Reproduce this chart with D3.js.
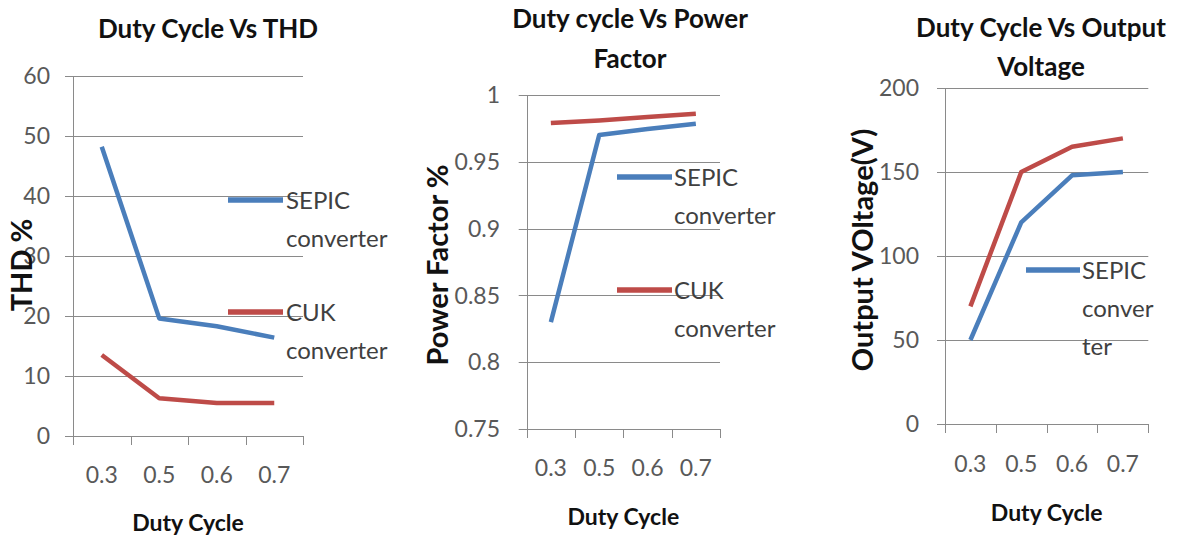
<!DOCTYPE html>
<html>
<head>
<meta charset="utf-8">
<script src="https://cdn.jsdelivr.net/npm/d3@7"></script>
<style>
  html, body { margin: 0; padding: 0; background: #ffffff; }
  svg { display: block; }
  text { font-family: Lato, "Open Sans", sans-serif; }
</style>
</head>
<body>
<svg id="chart" width="1177" height="540"></svg>
<script>
// ---- data ----
const categories = ["0.3", "0.5", "0.6", "0.7"];
const seriesNames = ["SEPIC converter", "CUK converter"];

const thdSepic = [48.2, 19.6, 18.3, 16.4];
const thdCuk = [13.5, 6.3, 5.5, 5.5];
const thdTicks = [0, 10, 20, 30, 40, 50, 60];

const pfSepic = [0.83, 0.97, 0.9745, 0.9785];
const pfCuk = [0.979, 0.981, 0.9835, 0.986];
const pfTicks = [0.75, 0.8, 0.85, 0.9, 0.95, 1];

const vSepic = [50, 120, 148, 150];
const vCuk = [70, 150, 165, 170];
const vTicks = [0, 50, 100, 150, 200];

const titles = [["Duty Cycle Vs THD"], ["Duty cycle Vs Power", "Factor"], ["Duty Cycle Vs Output", "Voltage"]];
const yTitles = ["THD %", "Power Factor %", "Output VOltage(V)"];
const xTitle = "Duty Cycle";

// ---- styles ----
const BLUE = "#4A7EBB";
const RED = "#BE4B48";
const GRID = "#8a8a8a";
const TICKTXT = "#595959";
const LEGTXT = "#404040";

const svg = d3.select("#chart");

const panels = [
  {
    x0: 73, x1: 303, yTop: 76, yBot: 436, domain: [0, 60], ticks: thdTicks,
    fmt: d3.format("d"), series: [thdSepic, thdCuk],
    title: titles[0], titleX: 208, titleY: [38],
    yTitle: yTitles[0], yTitleX: 22, yTitleY: 265,
    tickLabelX: 50, xLabY: 483, xTitleY: 531,
    legend: [
      { color: BLUE, lx0: 228, lx1: 283, ly: 200, tx: 286, lines: ["SEPIC", "converter"] },
      { color: RED, lx0: 228, lx1: 283, ly: 312, tx: 286, lines: ["CUK", "converter"] }
    ]
  },
  {
    x0: 526.7, x1: 720, yTop: 95, yBot: 429, domain: [0.75, 1], ticks: pfTicks,
    fmt: d => d3.format("")(+d.toFixed(2)), series: [pfSepic, pfCuk],
    title: titles[1], titleX: 630, titleY: [28, 68],
    yTitle: yTitles[1], yTitleX: 438, yTitleY: 265,
    tickLabelX: 500, xLabY: 476, xTitleY: 525,
    legend: [
      { color: BLUE, lx0: 617, lx1: 672, ly: 177, tx: 674, lines: ["SEPIC", "converter"] },
      { color: RED, lx0: 617, lx1: 672, ly: 290, tx: 674, lines: ["CUK", "converter"] }
    ]
  },
  {
    x0: 945, x1: 1148.3, yTop: 88, yBot: 424, domain: [0, 200], ticks: vTicks,
    fmt: d3.format("d"), series: [vSepic, vCuk],
    title: titles[2], titleX: 1041, titleY: [37, 76],
    yTitle: yTitles[2], yTitleX: 863, yTitleY: 250,
    tickLabelX: 919, xLabY: 472, xTitleY: 521,
    legend: [
      { color: BLUE, lx0: 1026, lx1: 1080, ly: 270, tx: 1082, lines: ["SEPIC", "conver", "ter"] }
    ]
  }
];

panels.forEach(p => {
  const g = svg.append("g");
  const x = d3.scaleBand().domain(categories).range([p.x0, p.x1]).padding(0);
  const y = d3.scaleLinear().domain(p.domain).range([p.yBot, p.yTop]);

  // gridlines (extend 8px left of the axis as tick marks)
  g.selectAll(".grid").data(p.ticks).join("line")
    .attr("x1", p.x0 - 8).attr("x2", p.x1)
    .attr("y1", d => Math.round(y(d)) + 0.5).attr("y2", d => Math.round(y(d)) + 0.5)
    .attr("stroke", GRID).attr("stroke-width", 1);

  // y axis line
  g.append("line")
    .attr("x1", Math.round(p.x0) + 0.5).attr("x2", Math.round(p.x0) + 0.5)
    .attr("y1", y(p.domain[1])).attr("y2", y(p.domain[0]))
    .attr("stroke", GRID).attr("stroke-width", 1);

  // x tick marks at category boundaries
  const bounds = categories.map(c => x(c)).concat([x(categories[categories.length - 1]) + x.bandwidth()]);
  g.selectAll(".xt").data(bounds).join("line")
    .attr("x1", d => Math.round(d) + 0.5).attr("x2", d => Math.round(d) + 0.5)
    .attr("y1", y(p.domain[0])).attr("y2", y(p.domain[0]) + 9)
    .attr("stroke", GRID).attr("stroke-width", 1);

  // y tick labels
  g.selectAll(".yl").data(p.ticks).join("text")
    .attr("x", p.tickLabelX).attr("y", d => y(d))
    .attr("dy", "0.36em").attr("text-anchor", "end")
    .attr("font-size", 23).attr("fill", TICKTXT)
    .text(d => p.fmt(d));

  // x tick labels
  g.selectAll(".xl").data(categories).join("text")
    .attr("x", d => x(d) + x.bandwidth() / 2).attr("y", p.xLabY)
    .attr("text-anchor", "middle").attr("font-size", 23).attr("fill", TICKTXT)
    .text(d => d);

  // series lines
  const colors = [BLUE, RED];
  p.series.forEach((vals, i) => {
    const line = d3.line()
      .x((d, j) => x(categories[j]) + x.bandwidth() / 2)
      .y(d => y(d));
    g.append("path").datum(vals)
      .attr("d", line).attr("fill", "none")
      .attr("stroke", colors[i]).attr("stroke-width", 4.5)
      .attr("stroke-linejoin", "round");
  });

  // legend
  p.legend.forEach(l => {
    g.append("line").attr("x1", l.lx0).attr("x2", l.lx1)
      .attr("y1", l.ly).attr("y2", l.ly)
      .attr("stroke", l.color).attr("stroke-width", 5.5);
    l.lines.forEach((t, k) => {
      g.append("text").attr("x", l.tx).attr("y", l.ly + 9 + k * 38)
        .attr("font-size", 24).attr("fill", LEGTXT).text(t);
    });
  });

  // title
  p.title.forEach((t, k) => {
    g.append("text").attr("x", p.titleX).attr("y", p.titleY[k])
      .attr("text-anchor", "middle").attr("font-size", 26)
      .attr("font-weight", "bold").attr("fill", "#111").text(t);
  });

  // y title
  g.append("text")
    .attr("transform", `translate(${p.yTitleX},${p.yTitleY}) rotate(-90)`)
    .attr("text-anchor", "middle").attr("dy", "0.35em")
    .attr("font-size", 29).attr("font-weight", "bold").attr("fill", "#111")
    .text(p.yTitle);

  // x title
  g.append("text").attr("x", (p.x0 + p.x1) / 2).attr("y", p.xTitleY)
    .attr("text-anchor", "middle").attr("font-size", 23)
    .attr("font-weight", "bold").attr("fill", "#111").text(xTitle);
});
</script>
</body>
</html>
